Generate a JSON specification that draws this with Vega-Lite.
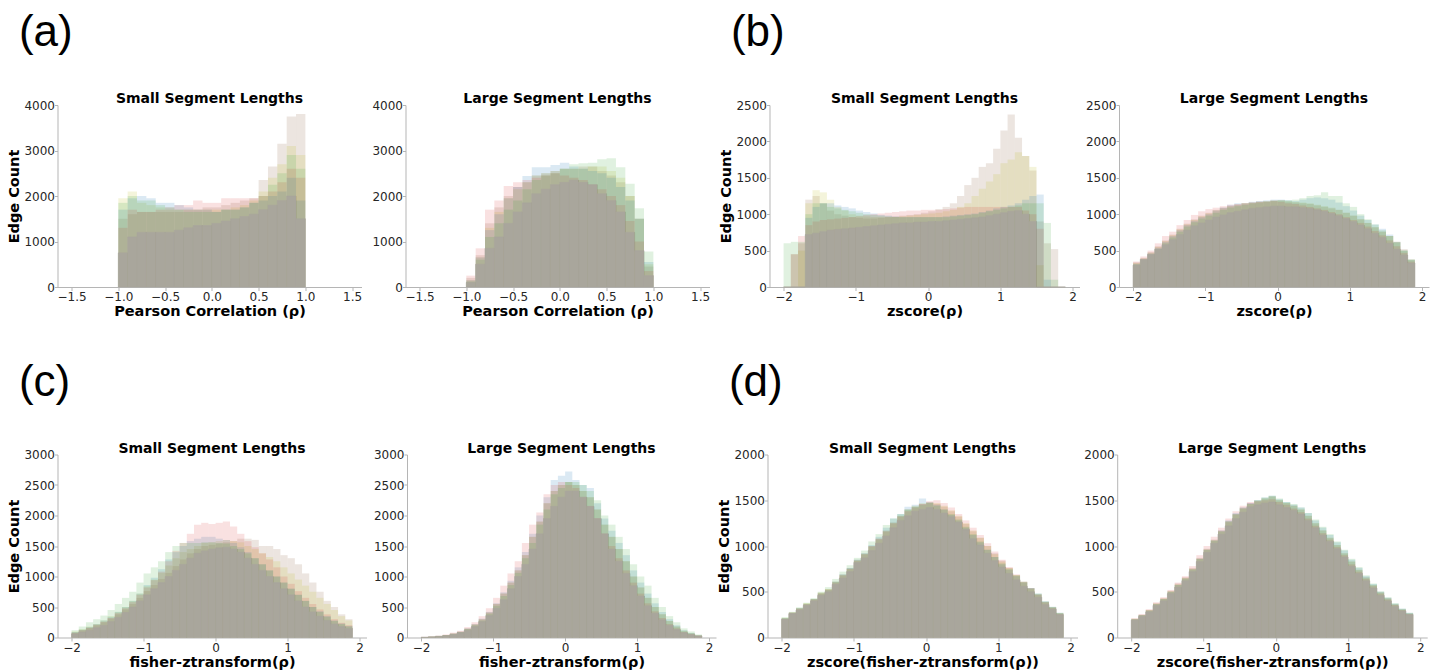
{
"$schema": "https://vega.github.io/schema/vega-lite/v6.json",
"padding": {"left": 6.5, "top": 11, "right": 2, "bottom": 2},
"config": {
  "view": {"stroke": null},
  "font": "DejaVu Sans",
  "axis": {"domainColor": "#b5b5b5", "tickColor": "#b5b5b5", "labelFont": "DejaVu Sans", "labelFontSize": 12, "labelColor": "#262626", "titleFont": "DejaVu Sans", "titleFontSize": 14.5, "titleFontWeight": "bold", "titleColor": "#000000", "grid": false, "labelFlush": false},
  "axisX": {"tickSize": 3.5, "labelPadding": 1, "titlePadding": 2},
  "axisY": {"format": "d", "tickSize": 3, "labelPadding": 0, "titlePadding": 2},
  "title": {"font": "DejaVu Sans", "fontSize": 14, "fontWeight": "bold", "color": "#000000", "offset": -7},
  "rect": {"strokeWidth": 0.6}
},
"datasets": {
  "as": [
    {"x":-1,"x2":-0.9,"b":750,"s1":1500,"s2":1950,"s3":1700,"s4":1300,"s5":1850},
    {"x":-0.9,"x2":-0.8,"b":1100,"s1":1600,"s2":2100,"s3":1950,"s4":1700,"s5":2000},
    {"x":-0.8,"x2":-0.7,"b":1200,"s1":1650,"s2":1850,"s3":2000,"s4":1650,"s5":1900},
    {"x":-0.7,"x2":-0.6,"b":1200,"s1":1650,"s2":1800,"s3":1950,"s4":1650,"s5":1900},
    {"x":-0.6,"x2":-0.5,"b":1200,"s1":1650,"s2":1750,"s3":1850,"s4":1700,"s5":1800},
    {"x":-0.5,"x2":-0.4,"b":1200,"s1":1650,"s2":1700,"s3":1850,"s4":1750,"s5":1750},
    {"x":-0.4,"x2":-0.3,"b":1250,"s1":1650,"s2":1700,"s3":1800,"s4":1800,"s5":1700},
    {"x":-0.3,"x2":-0.2,"b":1300,"s1":1700,"s2":1700,"s3":1750,"s4":1800,"s5":1650},
    {"x":-0.2,"x2":-0.1,"b":1350,"s1":1700,"s2":1700,"s3":1700,"s4":1900,"s5":1650},
    {"x":-0.1,"x2":0,"b":1350,"s1":1750,"s2":1700,"s3":1700,"s4":1850,"s5":1650},
    {"x":0,"x2":0.1,"b":1400,"s1":1750,"s2":1700,"s3":1650,"s4":1850,"s5":1650},
    {"x":0.1,"x2":0.2,"b":1450,"s1":1800,"s2":1700,"s3":1700,"s4":1950,"s5":1700},
    {"x":0.2,"x2":0.3,"b":1500,"s1":1850,"s2":1750,"s3":1700,"s4":1950,"s5":1700},
    {"x":0.3,"x2":0.4,"b":1550,"s1":1900,"s2":1800,"s3":1750,"s4":1950,"s5":1750},
    {"x":0.4,"x2":0.5,"b":1600,"s1":1950,"s2":1900,"s3":1850,"s4":1950,"s5":1850},
    {"x":0.5,"x2":0.6,"b":1700,"s1":2350,"s2":2100,"s3":1900,"s4":2000,"s5":2000},
    {"x":0.6,"x2":0.7,"b":1800,"s1":2650,"s2":2400,"s3":2000,"s4":2100,"s5":2250},
    {"x":0.7,"x2":0.8,"b":1900,"s1":3150,"s2":2700,"s3":2100,"s4":2300,"s5":2500},
    {"x":0.8,"x2":0.9,"b":2000,"s1":3750,"s2":3100,"s3":2400,"s4":2600,"s5":2900},
    {"x":0.9,"x2":1,"b":1500,"s1":3800,"s2":2900,"s3":1900,"s4":2400,"s5":2600}
  ],
  "al": [
    {"x":-1,"x2":-0.9,"b":100,"s1":200,"s2":150,"s3":150,"s4":250,"s5":120},
    {"x":-0.9,"x2":-0.8,"b":500,"s1":700,"s2":650,"s3":650,"s4":850,"s5":600},
    {"x":-0.8,"x2":-0.7,"b":850,"s1":1400,"s2":1300,"s3":1250,"s4":1700,"s5":1100},
    {"x":-0.7,"x2":-0.6,"b":1100,"s1":1750,"s2":1650,"s3":1600,"s4":1900,"s5":1400},
    {"x":-0.6,"x2":-0.5,"b":1400,"s1":2000,"s2":1950,"s3":1950,"s4":2220,"s5":1700},
    {"x":-0.5,"x2":-0.4,"b":1650,"s1":2200,"s2":2150,"s3":2200,"s4":2300,"s5":1900},
    {"x":-0.4,"x2":-0.3,"b":1850,"s1":2300,"s2":2300,"s3":2440,"s4":2350,"s5":2150},
    {"x":-0.3,"x2":-0.2,"b":2050,"s1":2450,"s2":2450,"s3":2630,"s4":2400,"s5":2350},
    {"x":-0.2,"x2":-0.1,"b":2150,"s1":2500,"s2":2500,"s3":2630,"s4":2450,"s5":2450},
    {"x":-0.1,"x2":0,"b":2250,"s1":2550,"s2":2550,"s3":2680,"s4":2500,"s5":2500},
    {"x":0,"x2":0.1,"b":2300,"s1":2600,"s2":2600,"s3":2730,"s4":2450,"s5":2600},
    {"x":0.1,"x2":0.2,"b":2350,"s1":2600,"s2":2600,"s3":2650,"s4":2400,"s5":2700},
    {"x":0.2,"x2":0.3,"b":2300,"s1":2650,"s2":2600,"s3":2600,"s4":2350,"s5":2720},
    {"x":0.3,"x2":0.4,"b":2250,"s1":2650,"s2":2650,"s3":2550,"s4":2250,"s5":2730},
    {"x":0.4,"x2":0.5,"b":2050,"s1":2550,"s2":2650,"s3":2500,"s4":2150,"s5":2810},
    {"x":0.5,"x2":0.6,"b":1900,"s1":2450,"s2":2550,"s3":2400,"s4":2000,"s5":2830},
    {"x":0.6,"x2":0.7,"b":1650,"s1":2300,"s2":2400,"s3":2200,"s4":1800,"s5":2630},
    {"x":0.7,"x2":0.8,"b":1200,"s1":2000,"s2":2000,"s3":1900,"s4":1450,"s5":2270},
    {"x":0.8,"x2":0.9,"b":800,"s1":1500,"s2":1500,"s3":1500,"s4":1000,"s5":1730},
    {"x":0.9,"x2":1,"b":250,"s1":450,"s2":500,"s3":550,"s4":350,"s5":780}
  ],
  "bs": [
    {"x":-2,"x2":-1.9,"b":0,"s1":0,"s2":0,"s3":0,"s4":0,"s5":600},
    {"x":-1.9,"x2":-1.8,"b":0,"s1":450,"s2":0,"s3":0,"s4":450,"s5":620},
    {"x":-1.8,"x2":-1.7,"b":0,"s1":600,"s2":500,"s3":0,"s4":700,"s5":620},
    {"x":-1.7,"x2":-1.6,"b":720,"s1":1200,"s2":1150,"s3":950,"s4":850,"s5":1000},
    {"x":-1.6,"x2":-1.5,"b":740,"s1":1250,"s2":1330,"s3":1100,"s4":900,"s5":1150},
    {"x":-1.5,"x2":-1.4,"b":760,"s1":1150,"s2":1300,"s3":1150,"s4":920,"s5":1150},
    {"x":-1.4,"x2":-1.3,"b":780,"s1":1050,"s2":1200,"s3":1150,"s4":930,"s5":1100},
    {"x":-1.3,"x2":-1.2,"b":790,"s1":1000,"s2":1100,"s3":1120,"s4":940,"s5":1080},
    {"x":-1.2,"x2":-1.1,"b":800,"s1":980,"s2":1050,"s3":1100,"s4":950,"s5":1060},
    {"x":-1.1,"x2":-1,"b":810,"s1":960,"s2":1000,"s3":1080,"s4":960,"s5":1040},
    {"x":-1,"x2":-0.9,"b":820,"s1":950,"s2":980,"s3":1050,"s4":970,"s5":1020},
    {"x":-0.9,"x2":-0.8,"b":830,"s1":940,"s2":970,"s3":1030,"s4":990,"s5":1000},
    {"x":-0.8,"x2":-0.7,"b":840,"s1":940,"s2":960,"s3":1010,"s4":1000,"s5":990},
    {"x":-0.7,"x2":-0.6,"b":850,"s1":950,"s2":960,"s3":990,"s4":1010,"s5":980},
    {"x":-0.6,"x2":-0.5,"b":860,"s1":960,"s2":960,"s3":980,"s4":1020,"s5":970},
    {"x":-0.5,"x2":-0.4,"b":870,"s1":970,"s2":960,"s3":970,"s4":1030,"s5":960},
    {"x":-0.4,"x2":-0.3,"b":880,"s1":980,"s2":970,"s3":960,"s4":1040,"s5":960},
    {"x":-0.3,"x2":-0.2,"b":880,"s1":990,"s2":980,"s3":960,"s4":1050,"s5":960},
    {"x":-0.2,"x2":-0.1,"b":890,"s1":1000,"s2":990,"s3":960,"s4":1050,"s5":960},
    {"x":-0.1,"x2":0,"b":890,"s1":1020,"s2":1000,"s3":960,"s4":1060,"s5":960},
    {"x":0,"x2":0.1,"b":900,"s1":1040,"s2":1010,"s3":960,"s4":1060,"s5":960},
    {"x":0.1,"x2":0.2,"b":900,"s1":1070,"s2":1020,"s3":960,"s4":1060,"s5":960},
    {"x":0.2,"x2":0.3,"b":910,"s1":1100,"s2":1040,"s3":970,"s4":1070,"s5":960},
    {"x":0.3,"x2":0.4,"b":920,"s1":1150,"s2":1060,"s3":980,"s4":1080,"s5":970},
    {"x":0.4,"x2":0.5,"b":930,"s1":1250,"s2":1100,"s3":990,"s4":1090,"s5":980},
    {"x":0.5,"x2":0.6,"b":940,"s1":1400,"s2":1150,"s3":1000,"s4":1100,"s5":990},
    {"x":0.6,"x2":0.7,"b":950,"s1":1500,"s2":1250,"s3":1010,"s4":1100,"s5":1000},
    {"x":0.7,"x2":0.8,"b":960,"s1":1650,"s2":1350,"s3":1030,"s4":1100,"s5":1020},
    {"x":0.8,"x2":0.9,"b":980,"s1":1700,"s2":1450,"s3":1050,"s4":1100,"s5":1040},
    {"x":0.9,"x2":1,"b":1000,"s1":1900,"s2":1550,"s3":1080,"s4":1100,"s5":1060},
    {"x":1,"x2":1.1,"b":1020,"s1":2150,"s2":1700,"s3":1100,"s4":1100,"s5":1080},
    {"x":1.1,"x2":1.2,"b":1040,"s1":2370,"s2":1750,"s3":1120,"s4":1100,"s5":1100},
    {"x":1.2,"x2":1.3,"b":1050,"s1":2050,"s2":1850,"s3":1150,"s4":1100,"s5":1120},
    {"x":1.3,"x2":1.4,"b":1000,"s1":1800,"s2":1800,"s3":1200,"s4":1050,"s5":1150},
    {"x":1.4,"x2":1.5,"b":900,"s1":1600,"s2":1650,"s3":1250,"s4":1000,"s5":1150},
    {"x":1.5,"x2":1.6,"b":0,"s1":900,"s2":300,"s3":1270,"s4":800,"s5":1150},
    {"x":1.6,"x2":1.7,"b":0,"s1":600,"s2":0,"s3":100,"s4":0,"s5":880},
    {"x":1.7,"x2":1.8,"b":0,"s1":520,"s2":0,"s3":0,"s4":0,"s5":100},
    {"x":1.8,"x2":1.9,"b":0,"s1":0,"s2":0,"s3":0,"s4":0,"s5":0}
  ],
  "bl": [
    {"x":-2,"x2":-1.9,"b":300,"s1":340,"s2":330,"s3":320,"s4":350,"s5":310},
    {"x":-1.9,"x2":-1.8,"b":380,"s1":400,"s2":390,"s3":380,"s4":420,"s5":370},
    {"x":-1.8,"x2":-1.7,"b":450,"s1":480,"s2":470,"s3":460,"s4":500,"s5":440},
    {"x":-1.7,"x2":-1.6,"b":520,"s1":560,"s2":550,"s3":540,"s4":600,"s5":520},
    {"x":-1.6,"x2":-1.5,"b":580,"s1":640,"s2":630,"s3":620,"s4":700,"s5":600},
    {"x":-1.5,"x2":-1.4,"b":650,"s1":720,"s2":710,"s3":700,"s4":760,"s5":680},
    {"x":-1.4,"x2":-1.3,"b":720,"s1":800,"s2":790,"s3":780,"s4":850,"s5":760},
    {"x":-1.3,"x2":-1.2,"b":780,"s1":870,"s2":860,"s3":850,"s4":920,"s5":830},
    {"x":-1.2,"x2":-1.1,"b":840,"s1":930,"s2":920,"s3":910,"s4":990,"s5":890},
    {"x":-1.1,"x2":-1,"b":880,"s1":980,"s2":970,"s3":960,"s4":1040,"s5":940},
    {"x":-1,"x2":-0.9,"b":920,"s1":1020,"s2":1010,"s3":1000,"s4":1070,"s5":980},
    {"x":-0.9,"x2":-0.8,"b":960,"s1":1060,"s2":1050,"s3":1050,"s4":1090,"s5":1020},
    {"x":-0.8,"x2":-0.7,"b":990,"s1":1090,"s2":1080,"s3":1090,"s4":1110,"s5":1060},
    {"x":-0.7,"x2":-0.6,"b":1020,"s1":1110,"s2":1110,"s3":1130,"s4":1130,"s5":1090},
    {"x":-0.6,"x2":-0.5,"b":1040,"s1":1130,"s2":1130,"s3":1150,"s4":1140,"s5":1110},
    {"x":-0.5,"x2":-0.4,"b":1060,"s1":1150,"s2":1150,"s3":1150,"s4":1150,"s5":1130},
    {"x":-0.4,"x2":-0.3,"b":1080,"s1":1160,"s2":1160,"s3":1170,"s4":1160,"s5":1150},
    {"x":-0.3,"x2":-0.2,"b":1090,"s1":1170,"s2":1170,"s3":1180,"s4":1170,"s5":1160},
    {"x":-0.2,"x2":-0.1,"b":1100,"s1":1180,"s2":1180,"s3":1190,"s4":1170,"s5":1170},
    {"x":-0.1,"x2":0,"b":1110,"s1":1190,"s2":1190,"s3":1200,"s4":1180,"s5":1180},
    {"x":0,"x2":0.1,"b":1110,"s1":1190,"s2":1190,"s3":1200,"s4":1170,"s5":1190},
    {"x":0.1,"x2":0.2,"b":1100,"s1":1170,"s2":1180,"s3":1190,"s4":1150,"s5":1190},
    {"x":0.2,"x2":0.3,"b":1100,"s1":1160,"s2":1170,"s3":1180,"s4":1140,"s5":1200},
    {"x":0.3,"x2":0.4,"b":1090,"s1":1150,"s2":1160,"s3":1200,"s4":1120,"s5":1220},
    {"x":0.4,"x2":0.5,"b":1080,"s1":1140,"s2":1150,"s3":1220,"s4":1100,"s5":1250},
    {"x":0.5,"x2":0.6,"b":1060,"s1":1120,"s2":1130,"s3":1230,"s4":1080,"s5":1260},
    {"x":0.6,"x2":0.7,"b":1040,"s1":1100,"s2":1110,"s3":1220,"s4":1060,"s5":1300},
    {"x":0.7,"x2":0.8,"b":1010,"s1":1080,"s2":1090,"s3":1200,"s4":1030,"s5":1250},
    {"x":0.8,"x2":0.9,"b":980,"s1":1060,"s2":1060,"s3":1160,"s4":1000,"s5":1250},
    {"x":0.9,"x2":1,"b":940,"s1":1020,"s2":1020,"s3":1110,"s4":960,"s5":1150},
    {"x":1,"x2":1.1,"b":900,"s1":980,"s2":980,"s3":1050,"s4":920,"s5":1100},
    {"x":1.1,"x2":1.2,"b":850,"s1":930,"s2":930,"s3":980,"s4":880,"s5":1000},
    {"x":1.2,"x2":1.3,"b":800,"s1":880,"s2":880,"s3":920,"s4":830,"s5":930},
    {"x":1.3,"x2":1.4,"b":740,"s1":820,"s2":820,"s3":860,"s4":770,"s5":860},
    {"x":1.4,"x2":1.5,"b":680,"s1":760,"s2":760,"s3":800,"s4":710,"s5":780},
    {"x":1.5,"x2":1.6,"b":600,"s1":700,"s2":700,"s3":720,"s4":640,"s5":700},
    {"x":1.6,"x2":1.7,"b":520,"s1":620,"s2":620,"s3":620,"s4":560,"s5":610},
    {"x":1.7,"x2":1.8,"b":440,"s1":520,"s2":500,"s3":500,"s4":470,"s5":500},
    {"x":1.8,"x2":1.9,"b":330,"s1":380,"s2":370,"s3":370,"s4":350,"s5":380}
  ],
  "cs": [
    {"x":-2,"x2":-1.9,"b":60,"s1":80,"s2":100,"s3":90,"s4":80,"s5":120},
    {"x":-1.9,"x2":-1.8,"b":90,"s1":120,"s2":140,"s3":130,"s4":120,"s5":180},
    {"x":-1.8,"x2":-1.7,"b":120,"s1":160,"s2":180,"s3":170,"s4":160,"s5":250},
    {"x":-1.7,"x2":-1.6,"b":160,"s1":200,"s2":220,"s3":220,"s4":210,"s5":300},
    {"x":-1.6,"x2":-1.5,"b":200,"s1":250,"s2":280,"s3":280,"s4":260,"s5":360},
    {"x":-1.5,"x2":-1.4,"b":260,"s1":310,"s2":350,"s3":340,"s4":320,"s5":450},
    {"x":-1.4,"x2":-1.3,"b":330,"s1":380,"s2":420,"s3":420,"s4":400,"s5":550},
    {"x":-1.3,"x2":-1.2,"b":410,"s1":460,"s2":500,"s3":500,"s4":480,"s5":650},
    {"x":-1.2,"x2":-1.1,"b":500,"s1":550,"s2":600,"s3":600,"s4":580,"s5":750},
    {"x":-1.1,"x2":-1,"b":600,"s1":650,"s2":720,"s3":720,"s4":700,"s5":900},
    {"x":-1,"x2":-0.9,"b":700,"s1":760,"s2":840,"s3":860,"s4":820,"s5":1050},
    {"x":-0.9,"x2":-0.8,"b":800,"s1":860,"s2":950,"s3":980,"s4":940,"s5":1150},
    {"x":-0.8,"x2":-0.7,"b":900,"s1":960,"s2":1060,"s3":1120,"s4":1080,"s5":1250},
    {"x":-0.7,"x2":-0.6,"b":1000,"s1":1060,"s2":1180,"s3":1280,"s4":1250,"s5":1400},
    {"x":-0.6,"x2":-0.5,"b":1100,"s1":1170,"s2":1300,"s3":1400,"s4":1420,"s5":1500},
    {"x":-0.5,"x2":-0.4,"b":1200,"s1":1280,"s2":1400,"s3":1500,"s4":1550,"s5":1550},
    {"x":-0.4,"x2":-0.3,"b":1300,"s1":1380,"s2":1450,"s3":1580,"s4":1700,"s5":1550},
    {"x":-0.3,"x2":-0.2,"b":1380,"s1":1450,"s2":1500,"s3":1620,"s4":1850,"s5":1550},
    {"x":-0.2,"x2":-0.1,"b":1420,"s1":1500,"s2":1550,"s3":1650,"s4":1880,"s5":1560},
    {"x":-0.1,"x2":0,"b":1450,"s1":1520,"s2":1560,"s3":1650,"s4":1860,"s5":1560},
    {"x":0,"x2":0.1,"b":1470,"s1":1540,"s2":1580,"s3":1620,"s4":1880,"s5":1550},
    {"x":0.1,"x2":0.2,"b":1480,"s1":1560,"s2":1600,"s3":1600,"s4":1900,"s5":1540},
    {"x":0.2,"x2":0.3,"b":1450,"s1":1580,"s2":1580,"s3":1550,"s4":1820,"s5":1500},
    {"x":0.3,"x2":0.4,"b":1400,"s1":1620,"s2":1560,"s3":1480,"s4":1700,"s5":1450},
    {"x":0.4,"x2":0.5,"b":1300,"s1":1620,"s2":1500,"s3":1400,"s4":1580,"s5":1380},
    {"x":0.5,"x2":0.6,"b":1200,"s1":1600,"s2":1450,"s3":1300,"s4":1480,"s5":1300},
    {"x":0.6,"x2":0.7,"b":1100,"s1":1500,"s2":1380,"s3":1200,"s4":1380,"s5":1200},
    {"x":0.7,"x2":0.8,"b":1000,"s1":1500,"s2":1320,"s3":1100,"s4":1280,"s5":1100},
    {"x":0.8,"x2":0.9,"b":900,"s1":1450,"s2":1250,"s3":1000,"s4":1150,"s5":1000},
    {"x":0.9,"x2":1,"b":800,"s1":1350,"s2":1150,"s3":900,"s4":1000,"s5":900},
    {"x":1,"x2":1.1,"b":700,"s1":1300,"s2":1050,"s3":800,"s4":880,"s5":800},
    {"x":1.1,"x2":1.2,"b":600,"s1":1200,"s2":950,"s3":700,"s4":760,"s5":700},
    {"x":1.2,"x2":1.3,"b":500,"s1":1050,"s2":850,"s3":600,"s4":650,"s5":600},
    {"x":1.3,"x2":1.4,"b":420,"s1":900,"s2":750,"s3":500,"s4":550,"s5":500},
    {"x":1.4,"x2":1.5,"b":350,"s1":750,"s2":650,"s3":430,"s4":460,"s5":420},
    {"x":1.5,"x2":1.6,"b":280,"s1":600,"s2":550,"s3":350,"s4":380,"s5":340},
    {"x":1.6,"x2":1.7,"b":220,"s1":500,"s2":450,"s3":280,"s4":300,"s5":270},
    {"x":1.7,"x2":1.8,"b":180,"s1":380,"s2":350,"s3":230,"s4":240,"s5":220},
    {"x":1.8,"x2":1.9,"b":150,"s1":300,"s2":280,"s3":190,"s4":200,"s5":180}
  ],
  "cl": [
    {"x":-2,"x2":-1.9,"b":5,"s1":8,"s2":8,"s3":8,"s4":10,"s5":8},
    {"x":-1.9,"x2":-1.8,"b":10,"s1":15,"s2":15,"s3":15,"s4":20,"s5":15},
    {"x":-1.8,"x2":-1.7,"b":20,"s1":25,"s2":25,"s3":25,"s4":30,"s5":25},
    {"x":-1.7,"x2":-1.6,"b":30,"s1":40,"s2":40,"s3":40,"s4":50,"s5":40},
    {"x":-1.6,"x2":-1.5,"b":50,"s1":65,"s2":65,"s3":65,"s4":80,"s5":60},
    {"x":-1.5,"x2":-1.4,"b":80,"s1":95,"s2":95,"s3":95,"s4":110,"s5":90},
    {"x":-1.4,"x2":-1.3,"b":120,"s1":145,"s2":145,"s3":150,"s4":170,"s5":140},
    {"x":-1.3,"x2":-1.2,"b":180,"s1":215,"s2":215,"s3":220,"s4":250,"s5":200},
    {"x":-1.2,"x2":-1.1,"b":260,"s1":300,"s2":300,"s3":310,"s4":350,"s5":280},
    {"x":-1.1,"x2":-1,"b":360,"s1":410,"s2":410,"s3":420,"s4":480,"s5":390},
    {"x":-1,"x2":-0.9,"b":480,"s1":550,"s2":550,"s3":560,"s4":650,"s5":520},
    {"x":-0.9,"x2":-0.8,"b":620,"s1":720,"s2":720,"s3":740,"s4":850,"s5":680},
    {"x":-0.8,"x2":-0.7,"b":800,"s1":900,"s2":900,"s3":930,"s4":1050,"s5":860},
    {"x":-0.7,"x2":-0.6,"b":1000,"s1":1100,"s2":1100,"s3":1150,"s4":1250,"s5":1060},
    {"x":-0.6,"x2":-0.5,"b":1200,"s1":1350,"s2":1350,"s3":1400,"s4":1550,"s5":1300},
    {"x":-0.5,"x2":-0.4,"b":1450,"s1":1650,"s2":1650,"s3":1700,"s4":1850,"s5":1550},
    {"x":-0.4,"x2":-0.3,"b":1700,"s1":1900,"s2":1900,"s3":2000,"s4":2050,"s5":1850},
    {"x":-0.3,"x2":-0.2,"b":1950,"s1":2200,"s2":2200,"s3":2300,"s4":2350,"s5":2100},
    {"x":-0.2,"x2":-0.1,"b":2150,"s1":2400,"s2":2400,"s3":2580,"s4":2500,"s5":2350},
    {"x":-0.1,"x2":0,"b":2300,"s1":2500,"s2":2500,"s3":2650,"s4":2550,"s5":2450},
    {"x":0,"x2":0.1,"b":2400,"s1":2550,"s2":2550,"s3":2720,"s4":2500,"s5":2550},
    {"x":0.1,"x2":0.2,"b":2400,"s1":2500,"s2":2500,"s3":2580,"s4":2450,"s5":2550},
    {"x":0.2,"x2":0.3,"b":2300,"s1":2400,"s2":2400,"s3":2500,"s4":2300,"s5":2500},
    {"x":0.3,"x2":0.4,"b":2150,"s1":2300,"s2":2300,"s3":2450,"s4":2150,"s5":2400},
    {"x":0.4,"x2":0.5,"b":1950,"s1":2100,"s2":2100,"s3":2200,"s4":1950,"s5":2250},
    {"x":0.5,"x2":0.6,"b":1700,"s1":1850,"s2":1850,"s3":1950,"s4":1700,"s5":2000},
    {"x":0.6,"x2":0.7,"b":1450,"s1":1650,"s2":1650,"s3":1750,"s4":1500,"s5":1850},
    {"x":0.7,"x2":0.8,"b":1250,"s1":1450,"s2":1450,"s3":1550,"s4":1300,"s5":1650},
    {"x":0.8,"x2":0.9,"b":1050,"s1":1250,"s2":1250,"s3":1350,"s4":1100,"s5":1450},
    {"x":0.9,"x2":1,"b":850,"s1":1000,"s2":1000,"s3":1100,"s4":900,"s5":1200},
    {"x":1,"x2":1.1,"b":680,"s1":820,"s2":820,"s3":900,"s4":720,"s5":1000},
    {"x":1.1,"x2":1.2,"b":520,"s1":650,"s2":650,"s3":720,"s4":560,"s5":850},
    {"x":1.2,"x2":1.3,"b":400,"s1":500,"s2":500,"s3":560,"s4":430,"s5":650},
    {"x":1.3,"x2":1.4,"b":290,"s1":380,"s2":380,"s3":420,"s4":320,"s5":500},
    {"x":1.4,"x2":1.5,"b":200,"s1":270,"s2":270,"s3":300,"s4":220,"s5":350},
    {"x":1.5,"x2":1.6,"b":130,"s1":180,"s2":180,"s3":200,"s4":150,"s5":250},
    {"x":1.6,"x2":1.7,"b":80,"s1":110,"s2":110,"s3":120,"s4":90,"s5":150},
    {"x":1.7,"x2":1.8,"b":50,"s1":70,"s2":70,"s3":75,"s4":55,"s5":100},
    {"x":1.8,"x2":1.9,"b":25,"s1":35,"s2":35,"s3":35,"s4":30,"s5":50}
  ],
  "ds": [
    {"x":-2,"x2":-1.9,"b":200,"s1":210,"s2":215,"s3":210,"s4":205,"s5":220},
    {"x":-1.9,"x2":-1.8,"b":260,"s1":275,"s2":275,"s3":270,"s4":270,"s5":280},
    {"x":-1.8,"x2":-1.7,"b":300,"s1":320,"s2":320,"s3":320,"s4":315,"s5":330},
    {"x":-1.7,"x2":-1.6,"b":350,"s1":370,"s2":375,"s3":365,"s4":365,"s5":380},
    {"x":-1.6,"x2":-1.5,"b":400,"s1":420,"s2":420,"s3":420,"s4":415,"s5":430},
    {"x":-1.5,"x2":-1.4,"b":460,"s1":490,"s2":490,"s3":480,"s4":480,"s5":500},
    {"x":-1.4,"x2":-1.3,"b":500,"s1":530,"s2":530,"s3":520,"s4":520,"s5":550},
    {"x":-1.3,"x2":-1.2,"b":580,"s1":610,"s2":610,"s3":610,"s4":600,"s5":640},
    {"x":-1.2,"x2":-1.1,"b":650,"s1":690,"s2":680,"s3":690,"s4":680,"s5":720},
    {"x":-1.1,"x2":-1,"b":720,"s1":760,"s2":750,"s3":760,"s4":750,"s5":790},
    {"x":-1,"x2":-0.9,"b":820,"s1":850,"s2":840,"s3":850,"s4":840,"s5":870},
    {"x":-0.9,"x2":-0.8,"b":870,"s1":920,"s2":910,"s3":920,"s4":910,"s5":950},
    {"x":-0.8,"x2":-0.7,"b":950,"s1":1000,"s2":990,"s3":1010,"s4":1000,"s5":1050},
    {"x":-0.7,"x2":-0.6,"b":1030,"s1":1080,"s2":1070,"s3":1100,"s4":1080,"s5":1130},
    {"x":-0.6,"x2":-0.5,"b":1110,"s1":1170,"s2":1160,"s3":1200,"s4":1160,"s5":1230},
    {"x":-0.5,"x2":-0.4,"b":1200,"s1":1260,"s2":1250,"s3":1300,"s4":1250,"s5":1300},
    {"x":-0.4,"x2":-0.3,"b":1280,"s1":1330,"s2":1330,"s3":1350,"s4":1320,"s5":1350},
    {"x":-0.3,"x2":-0.2,"b":1330,"s1":1400,"s2":1400,"s3":1430,"s4":1380,"s5":1400},
    {"x":-0.2,"x2":-0.1,"b":1380,"s1":1430,"s2":1440,"s3":1450,"s4":1420,"s5":1430},
    {"x":-0.1,"x2":0,"b":1400,"s1":1460,"s2":1470,"s3":1520,"s4":1460,"s5":1450},
    {"x":0,"x2":0.1,"b":1420,"s1":1470,"s2":1480,"s3":1480,"s4":1490,"s5":1470},
    {"x":0.1,"x2":0.2,"b":1400,"s1":1460,"s2":1470,"s3":1450,"s4":1500,"s5":1440},
    {"x":0.2,"x2":0.3,"b":1360,"s1":1430,"s2":1440,"s3":1400,"s4":1470,"s5":1400},
    {"x":0.3,"x2":0.4,"b":1320,"s1":1380,"s2":1390,"s3":1340,"s4":1420,"s5":1350},
    {"x":0.4,"x2":0.5,"b":1260,"s1":1320,"s2":1330,"s3":1280,"s4":1350,"s5":1290},
    {"x":0.5,"x2":0.6,"b":1180,"s1":1240,"s2":1250,"s3":1200,"s4":1280,"s5":1210},
    {"x":0.6,"x2":0.7,"b":1080,"s1":1160,"s2":1170,"s3":1120,"s4":1200,"s5":1130},
    {"x":0.7,"x2":0.8,"b":1010,"s1":1090,"s2":1090,"s3":1040,"s4":1120,"s5":1050},
    {"x":0.8,"x2":0.9,"b":920,"s1":1000,"s2":1000,"s3":960,"s4":1030,"s5":960},
    {"x":0.9,"x2":1,"b":840,"s1":920,"s2":910,"s3":880,"s4":940,"s5":880},
    {"x":1,"x2":1.1,"b":770,"s1":840,"s2":830,"s3":800,"s4":850,"s5":810},
    {"x":1.1,"x2":1.2,"b":700,"s1":760,"s2":760,"s3":740,"s4":770,"s5":750},
    {"x":1.2,"x2":1.3,"b":630,"s1":680,"s2":680,"s3":670,"s4":690,"s5":680},
    {"x":1.3,"x2":1.4,"b":560,"s1":610,"s2":600,"s3":600,"s4":610,"s5":610},
    {"x":1.4,"x2":1.5,"b":500,"s1":540,"s2":530,"s3":540,"s4":540,"s5":540},
    {"x":1.5,"x2":1.6,"b":440,"s1":470,"s2":470,"s3":480,"s4":470,"s5":480},
    {"x":1.6,"x2":1.7,"b":360,"s1":390,"s2":385,"s3":395,"s4":385,"s5":395},
    {"x":1.7,"x2":1.8,"b":310,"s1":330,"s2":330,"s3":335,"s4":325,"s5":335},
    {"x":1.8,"x2":1.9,"b":250,"s1":265,"s2":265,"s3":270,"s4":260,"s5":270}
  ],
  "dl": [
    {"x":-2,"x2":-1.9,"b":190,"s1":205,"s2":205,"s3":200,"s4":210,"s5":200},
    {"x":-1.9,"x2":-1.8,"b":230,"s1":250,"s2":245,"s3":245,"s4":255,"s5":245},
    {"x":-1.8,"x2":-1.7,"b":280,"s1":300,"s2":300,"s3":295,"s4":310,"s5":295},
    {"x":-1.7,"x2":-1.6,"b":350,"s1":375,"s2":370,"s3":365,"s4":385,"s5":365},
    {"x":-1.6,"x2":-1.5,"b":400,"s1":430,"s2":425,"s3":420,"s4":440,"s5":420},
    {"x":-1.5,"x2":-1.4,"b":480,"s1":510,"s2":505,"s3":500,"s4":520,"s5":500},
    {"x":-1.4,"x2":-1.3,"b":550,"s1":590,"s2":580,"s3":575,"s4":600,"s5":575},
    {"x":-1.3,"x2":-1.2,"b":620,"s1":660,"s2":650,"s3":645,"s4":670,"s5":645},
    {"x":-1.2,"x2":-1.1,"b":720,"s1":760,"s2":750,"s3":745,"s4":780,"s5":745},
    {"x":-1.1,"x2":-1,"b":830,"s1":870,"s2":860,"s3":860,"s4":900,"s5":860},
    {"x":-1,"x2":-0.9,"b":930,"s1":970,"s2":960,"s3":960,"s4":1000,"s5":960},
    {"x":-0.9,"x2":-0.8,"b":1030,"s1":1070,"s2":1060,"s3":1060,"s4":1100,"s5":1060},
    {"x":-0.8,"x2":-0.7,"b":1130,"s1":1170,"s2":1160,"s3":1170,"s4":1200,"s5":1160},
    {"x":-0.7,"x2":-0.6,"b":1220,"s1":1270,"s2":1260,"s3":1280,"s4":1300,"s5":1270},
    {"x":-0.6,"x2":-0.5,"b":1300,"s1":1350,"s2":1340,"s3":1360,"s4":1380,"s5":1350},
    {"x":-0.5,"x2":-0.4,"b":1370,"s1":1420,"s2":1410,"s3":1420,"s4":1440,"s5":1410},
    {"x":-0.4,"x2":-0.3,"b":1430,"s1":1470,"s2":1460,"s3":1470,"s4":1480,"s5":1460},
    {"x":-0.3,"x2":-0.2,"b":1450,"s1":1500,"s2":1490,"s3":1500,"s4":1490,"s5":1500},
    {"x":-0.2,"x2":-0.1,"b":1470,"s1":1520,"s2":1520,"s3":1530,"s4":1500,"s5":1530},
    {"x":-0.1,"x2":0,"b":1480,"s1":1540,"s2":1540,"s3":1550,"s4":1510,"s5":1550},
    {"x":0,"x2":0.1,"b":1450,"s1":1500,"s2":1500,"s3":1510,"s4":1480,"s5":1520},
    {"x":0.1,"x2":0.2,"b":1420,"s1":1470,"s2":1470,"s3":1480,"s4":1450,"s5":1480},
    {"x":0.2,"x2":0.3,"b":1390,"s1":1440,"s2":1440,"s3":1450,"s4":1410,"s5":1460},
    {"x":0.3,"x2":0.4,"b":1350,"s1":1400,"s2":1400,"s3":1420,"s4":1370,"s5":1420},
    {"x":0.4,"x2":0.5,"b":1280,"s1":1330,"s2":1330,"s3":1360,"s4":1300,"s5":1360},
    {"x":0.5,"x2":0.6,"b":1200,"s1":1250,"s2":1250,"s3":1280,"s4":1220,"s5":1290},
    {"x":0.6,"x2":0.7,"b":1120,"s1":1170,"s2":1170,"s3":1200,"s4":1140,"s5":1210},
    {"x":0.7,"x2":0.8,"b":1050,"s1":1090,"s2":1090,"s3":1120,"s4":1070,"s5":1130},
    {"x":0.8,"x2":0.9,"b":970,"s1":1010,"s2":1010,"s3":1040,"s4":990,"s5":1050},
    {"x":0.9,"x2":1,"b":880,"s1":920,"s2":920,"s3":950,"s4":900,"s5":960},
    {"x":1,"x2":1.1,"b":780,"s1":830,"s2":830,"s3":850,"s4":800,"s5":860},
    {"x":1.1,"x2":1.2,"b":700,"s1":740,"s2":740,"s3":760,"s4":720,"s5":770},
    {"x":1.2,"x2":1.3,"b":620,"s1":660,"s2":650,"s3":670,"s4":640,"s5":680},
    {"x":1.3,"x2":1.4,"b":540,"s1":575,"s2":570,"s3":585,"s4":560,"s5":590},
    {"x":1.4,"x2":1.5,"b":460,"s1":495,"s2":490,"s3":500,"s4":480,"s5":505},
    {"x":1.5,"x2":1.6,"b":400,"s1":430,"s2":425,"s3":435,"s4":415,"s5":440},
    {"x":1.6,"x2":1.7,"b":340,"s1":365,"s2":360,"s3":370,"s4":355,"s5":375},
    {"x":1.7,"x2":1.8,"b":290,"s1":310,"s2":305,"s3":315,"s4":300,"s5":315},
    {"x":1.8,"x2":1.9,"b":250,"s1":265,"s2":260,"s3":270,"s4":255,"s5":270}
  ]
},
"vconcat": [
  {"hconcat": [
    {"title": {"text": "(a)", "anchor": "start", "font": "Liberation Sans", "fontSize": 44, "fontWeight": "normal", "offset": 37, "dx": 12},
     "spacing": 9,
     "hconcat": [
      {"width": 304, "height": 182, "title": "Small Segment Lengths", "data": {"name": "as"},
       "transform": [{"fold": ["s1","s2","s3","s4","s5","b"], "as": ["series","count"]}],
       "mark": {"type": "rect"},
       "encoding": {
        "x": {"field": "x", "type": "quantitative", "scale": {"domain": [-1.65, 1.6], "nice": false, "zero": false}, "axis": {"values": [-1.5,-1,-0.5,0,0.5,1,1.5], "format": ".1f", "title": "Pearson Correlation (ρ)"}},
        "x2": {"field": "x2"},
        "y": {"field": "count", "type": "quantitative", "stack": null, "scale": {"domain": [0, 4000], "nice": false}, "axis": {"values": [0,1000,2000,3000,4000], "title": "Edge Count"}},
        "y2": {"datum": 0},
        "color": {"field": "series", "type": "nominal", "scale": {"domain": ["s1","s2","s3","s4","s5","b"], "range": ["rgba(200,180,166,0.35)","rgba(188,189,34,0.16)","rgba(31,119,180,0.16)","rgba(214,39,40,0.14)","rgba(44,160,44,0.15)","#a9a69c"]}, "legend": null},
        "stroke": {"condition": {"test": "datum.series === 'b'", "value": "#a9a69c"}, "value": null}
       }},
      {"width": 304, "height": 182, "title": "Large Segment Lengths", "data": {"name": "al"},
       "transform": [{"fold": ["s1","s2","s3","s4","s5","b"], "as": ["series","count"]}],
       "mark": {"type": "rect"},
       "encoding": {
        "x": {"field": "x", "type": "quantitative", "scale": {"domain": [-1.65, 1.6], "nice": false, "zero": false}, "axis": {"values": [-1.5,-1,-0.5,0,0.5,1,1.5], "format": ".1f", "title": "Pearson Correlation (ρ)"}},
        "x2": {"field": "x2"},
        "y": {"field": "count", "type": "quantitative", "stack": null, "scale": {"domain": [0, 4000], "nice": false}, "axis": {"values": [0,1000,2000,3000,4000], "title": null}},
        "y2": {"datum": 0},
        "color": {"field": "series", "type": "nominal", "scale": {"domain": ["s1","s2","s3","s4","s5","b"], "range": ["rgba(200,180,166,0.35)","rgba(188,189,34,0.16)","rgba(31,119,180,0.16)","rgba(214,39,40,0.14)","rgba(44,160,44,0.15)","#a9a69c"]}, "legend": null},
        "stroke": {"condition": {"test": "datum.series === 'b'", "value": "#a9a69c"}, "value": null}
       }}
     ]},
    {"title": {"text": "(b)", "anchor": "start", "font": "Liberation Sans", "fontSize": 44, "fontWeight": "normal", "offset": 37, "dx": 12},
     "spacing": 5.5,
     "hconcat": [
      {"width": 310, "height": 182, "title": "Small Segment Lengths", "data": {"name": "bs"},
       "transform": [{"fold": ["s1","s2","s3","s4","s5","b"], "as": ["series","count"]}],
       "mark": {"type": "rect"},
       "encoding": {
        "x": {"field": "x", "type": "quantitative", "scale": {"domain": [-2.195, 2.095], "nice": false, "zero": false}, "axis": {"values": [-2,-1,0,1,2], "format": "d", "title": "zscore(ρ)"}},
        "x2": {"field": "x2"},
        "y": {"field": "count", "type": "quantitative", "stack": null, "scale": {"domain": [0, 2500], "nice": false}, "axis": {"values": [0,500,1000,1500,2000,2500], "title": "Edge Count"}},
        "y2": {"datum": 0},
        "color": {"field": "series", "type": "nominal", "scale": {"domain": ["s1","s2","s3","s4","s5","b"], "range": ["rgba(200,180,166,0.35)","rgba(188,189,34,0.16)","rgba(31,119,180,0.16)","rgba(214,39,40,0.14)","rgba(44,160,44,0.15)","#a9a69c"]}, "legend": null},
        "stroke": {"condition": {"test": "datum.series === 'b'", "value": "#a9a69c"}, "value": null}
       }},
      {"width": 310, "height": 182, "title": "Large Segment Lengths", "data": {"name": "bl"},
       "transform": [{"fold": ["s1","s2","s3","s4","s5","b"], "as": ["series","count"]}],
       "mark": {"type": "rect"},
       "encoding": {
        "x": {"field": "x", "type": "quantitative", "scale": {"domain": [-2.195, 2.095], "nice": false, "zero": false}, "axis": {"values": [-2,-1,0,1,2], "format": "d", "title": "zscore(ρ)"}},
        "x2": {"field": "x2"},
        "y": {"field": "count", "type": "quantitative", "stack": null, "scale": {"domain": [0, 2500], "nice": false}, "axis": {"values": [0,500,1000,1500,2000,2500], "title": null}},
        "y2": {"datum": 0},
        "color": {"field": "series", "type": "nominal", "scale": {"domain": ["s1","s2","s3","s4","s5","b"], "range": ["rgba(200,180,166,0.35)","rgba(188,189,34,0.16)","rgba(31,119,180,0.16)","rgba(214,39,40,0.14)","rgba(44,160,44,0.15)","#a9a69c"]}, "legend": null},
        "stroke": {"condition": {"test": "datum.series === 'b'", "value": "#a9a69c"}, "value": null}
       }}
     ]}
  ], "spacing": 8},
  {"hconcat": [
    {"title": {"text": "(c)", "anchor": "start", "font": "Liberation Sans", "fontSize": 44, "fontWeight": "normal", "offset": 37, "dx": 12},
     "spacing": 6.5,
     "hconcat": [
      {"width": 309, "height": 183, "title": "Small Segment Lengths", "data": {"name": "cs"},
       "transform": [{"fold": ["s1","s2","s3","s4","s5","b"], "as": ["series","count"]}],
       "mark": {"type": "rect"},
       "encoding": {
        "x": {"field": "x", "type": "quantitative", "scale": {"domain": [-2.195, 2.095], "nice": false, "zero": false}, "axis": {"values": [-2,-1,0,1,2], "format": "d", "title": "fisher-ztransform(ρ)"}},
        "x2": {"field": "x2"},
        "y": {"field": "count", "type": "quantitative", "stack": null, "scale": {"domain": [0, 3000], "nice": false}, "axis": {"values": [0,500,1000,1500,2000,2500,3000], "title": "Edge Count"}},
        "y2": {"datum": 0},
        "color": {"field": "series", "type": "nominal", "scale": {"domain": ["s1","s2","s3","s4","s5","b"], "range": ["rgba(200,180,166,0.35)","rgba(188,189,34,0.16)","rgba(31,119,180,0.16)","rgba(214,39,40,0.14)","rgba(44,160,44,0.15)","#a9a69c"]}, "legend": null},
        "stroke": {"condition": {"test": "datum.series === 'b'", "value": "#a9a69c"}, "value": null}
       }},
      {"width": 309, "height": 183, "title": "Large Segment Lengths", "data": {"name": "cl"},
       "transform": [{"fold": ["s1","s2","s3","s4","s5","b"], "as": ["series","count"]}],
       "mark": {"type": "rect"},
       "encoding": {
        "x": {"field": "x", "type": "quantitative", "scale": {"domain": [-2.195, 2.095], "nice": false, "zero": false}, "axis": {"values": [-2,-1,0,1,2], "format": "d", "title": "fisher-ztransform(ρ)"}},
        "x2": {"field": "x2"},
        "y": {"field": "count", "type": "quantitative", "stack": null, "scale": {"domain": [0, 3000], "nice": false}, "axis": {"values": [0,500,1000,1500,2000,2500,3000], "title": null}},
        "y2": {"datum": 0},
        "color": {"field": "series", "type": "nominal", "scale": {"domain": ["s1","s2","s3","s4","s5","b"], "range": ["rgba(200,180,166,0.35)","rgba(188,189,34,0.16)","rgba(31,119,180,0.16)","rgba(214,39,40,0.14)","rgba(44,160,44,0.15)","#a9a69c"]}, "legend": null},
        "stroke": {"condition": {"test": "datum.series === 'b'", "value": "#a9a69c"}, "value": null}
       }}
     ]},
    {"title": {"text": "(d)", "anchor": "start", "font": "Liberation Sans", "fontSize": 44, "fontWeight": "normal", "offset": 37, "dx": 12},
     "spacing": 5.7,
     "hconcat": [
      {"width": 310, "height": 183, "title": "Small Segment Lengths", "data": {"name": "ds"},
       "transform": [{"fold": ["s1","s2","s3","s4","s5","b"], "as": ["series","count"]}],
       "mark": {"type": "rect"},
       "encoding": {
        "x": {"field": "x", "type": "quantitative", "scale": {"domain": [-2.195, 2.095], "nice": false, "zero": false}, "axis": {"values": [-2,-1,0,1,2], "format": "d", "title": "zscore(fisher-ztransform(ρ))"}},
        "x2": {"field": "x2"},
        "y": {"field": "count", "type": "quantitative", "stack": null, "scale": {"domain": [0, 2000], "nice": false}, "axis": {"values": [0,500,1000,1500,2000], "title": "Edge Count"}},
        "y2": {"datum": 0},
        "color": {"field": "series", "type": "nominal", "scale": {"domain": ["s1","s2","s3","s4","s5","b"], "range": ["rgba(200,180,166,0.35)","rgba(188,189,34,0.16)","rgba(31,119,180,0.16)","rgba(214,39,40,0.14)","rgba(44,160,44,0.15)","#a9a69c"]}, "legend": null},
        "stroke": {"condition": {"test": "datum.series === 'b'", "value": "#a9a69c"}, "value": null}
       }},
      {"width": 310, "height": 183, "title": "Large Segment Lengths", "data": {"name": "dl"},
       "transform": [{"fold": ["s1","s2","s3","s4","s5","b"], "as": ["series","count"]}],
       "mark": {"type": "rect"},
       "encoding": {
        "x": {"field": "x", "type": "quantitative", "scale": {"domain": [-2.195, 2.095], "nice": false, "zero": false}, "axis": {"values": [-2,-1,0,1,2], "format": "d", "title": "zscore(fisher-ztransform(ρ))"}},
        "x2": {"field": "x2"},
        "y": {"field": "count", "type": "quantitative", "stack": null, "scale": {"domain": [0, 2000], "nice": false}, "axis": {"values": [0,500,1000,1500,2000], "title": null}},
        "y2": {"datum": 0},
        "color": {"field": "series", "type": "nominal", "scale": {"domain": ["s1","s2","s3","s4","s5","b"], "range": ["rgba(200,180,166,0.35)","rgba(188,189,34,0.16)","rgba(31,119,180,0.16)","rgba(214,39,40,0.14)","rgba(44,160,44,0.15)","#a9a69c"]}, "legend": null},
        "stroke": {"condition": {"test": "datum.series === 'b'", "value": "#a9a69c"}, "value": null}
       }}
     ]}
  ], "spacing": 0}
],
"spacing": 42.5
}
